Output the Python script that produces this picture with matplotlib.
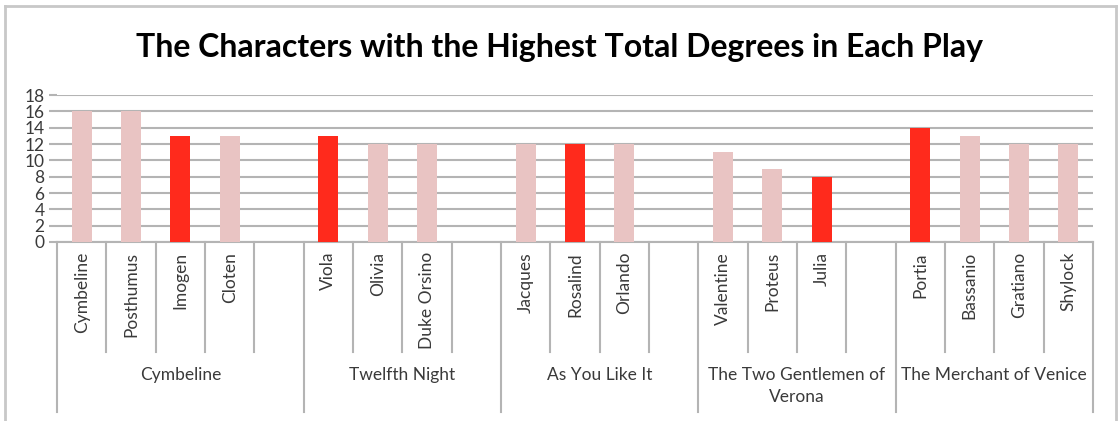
import matplotlib
matplotlib.use("Agg")
import matplotlib.pyplot as plt
from matplotlib.lines import Line2D
from matplotlib.transforms import blended_transform_factory

plt.rcParams["font.family"] = ["Lato", "DejaVu Sans"]

# data
plays = ["Cymbeline", "Twelfth Night", "As You Like It",
         "The Two Gentlemen of\nVerona", "The Merchant of Venice"]
characters = [
    ["Cymbeline", "Posthumus", "Imogen", "Cloten", ""],
    ["Viola", "Olivia", "Duke Orsino", ""],
    ["Jacques", "Rosalind", "Orlando", ""],
    ["Valentine", "Proteus", "Julia", ""],
    ["Portia", "Bassanio", "Gratiano", "Shylock"],
]
degrees = [
    [16, 16, 13, 13, None],
    [13, 12, 12, None],
    [12, 12, 12, None],
    [11, 9, 8, None],
    [14, 13, 12, 12],
]
highlight = ["Imogen", "Viola", "Rosalind", "Julia", "Portia"]

pink = "#E9C4C3"
red = "#FF2A1C"
grid_gray = "#B4B4B4"
text_gray = "#3A3A3A"

W, H = 1118, 421
fig = plt.figure(figsize=(W / 100, H / 100), dpi=100)
ax = fig.add_axes([57 / W, 1 - 242 / H, (1093 - 57) / W, (242 - 95) / H])

# flatten slots
labels, values = [], []
for names, vals in zip(characters, degrees):
    labels += names
    values += vals
xs = list(range(len(labels)))

for x, name, v in zip(xs, labels, values):
    if v is None:
        continue
    ax.bar(x, v, width=0.4, color=red if name in highlight else pink, zorder=3)

ax.set_xlim(-0.5, len(labels) - 0.5)
ax.set_ylim(0, 18)
ax.set_yticks(range(0, 19, 2))
ax.yaxis.grid(True, color=grid_gray, linewidth=1.5, zorder=0)
ax.tick_params(axis="y", length=6, width=1.5, color=grid_gray,
               labelsize=12.5, labelcolor=text_gray, pad=3)
ax.set_xticks([])
for s in ["left", "right", "top"]:
    ax.spines[s].set_visible(False)
ax.spines["bottom"].set_color(grid_gray)
ax.spines["bottom"].set_linewidth(1.5)

tr = blended_transform_factory(ax.transData, fig.transFigure)
y_axis = 1 - 242 / H
y_slot = 1 - 352 / H
y_group = 1 - 412 / H

# character labels and slot dividers
for x, name in zip(xs, labels):
    if name:
        ax.text(x, 1 - 252 / H, name, transform=tr, rotation=90,
                ha="center", va="top", fontsize=12.5, color=text_gray)

start = 0
for play, names in zip(plays, characters):
    end = start + len(names)
    ax.add_line(Line2D([start - 0.5] * 2, [y_axis, y_group], transform=tr,
                       color=grid_gray, linewidth=1.5, clip_on=False))
    for k in range(start + 1, end):
        ax.add_line(Line2D([k - 0.5] * 2, [y_axis, y_slot], transform=tr,
                           color=grid_gray, linewidth=1.5, clip_on=False))
    ax.text((start + end - 1) / 2, 1 - 367 / H, play, transform=tr,
            ha="center", va="top", fontsize=12.5, color=text_gray,
            linespacing=1.45)
    start = end
ax.add_line(Line2D([start - 0.5] * 2, [y_axis, y_group], transform=tr,
                   color=grid_gray, linewidth=1.5, clip_on=False))

fig.text(560 / W, 1 - 48 / H, "The Characters with the Highest Total Degrees in Each Play",
         ha="center", va="center", fontsize=23, fontweight="bold", color="black")

# outer frame
frame = dict(color="#C8C8C8", linewidth=2)
fig.add_artist(Line2D([5 / W, 5 / W], [0, 1 - 6 / H], **frame))
fig.add_artist(Line2D([5 / W, 1116 / W], [1 - 6 / H, 1 - 6 / H], **frame))
fig.add_artist(Line2D([1116 / W, 1116 / W], [0, 1 - 6 / H], **frame))

fig.savefig("out.png", dpi=100)
